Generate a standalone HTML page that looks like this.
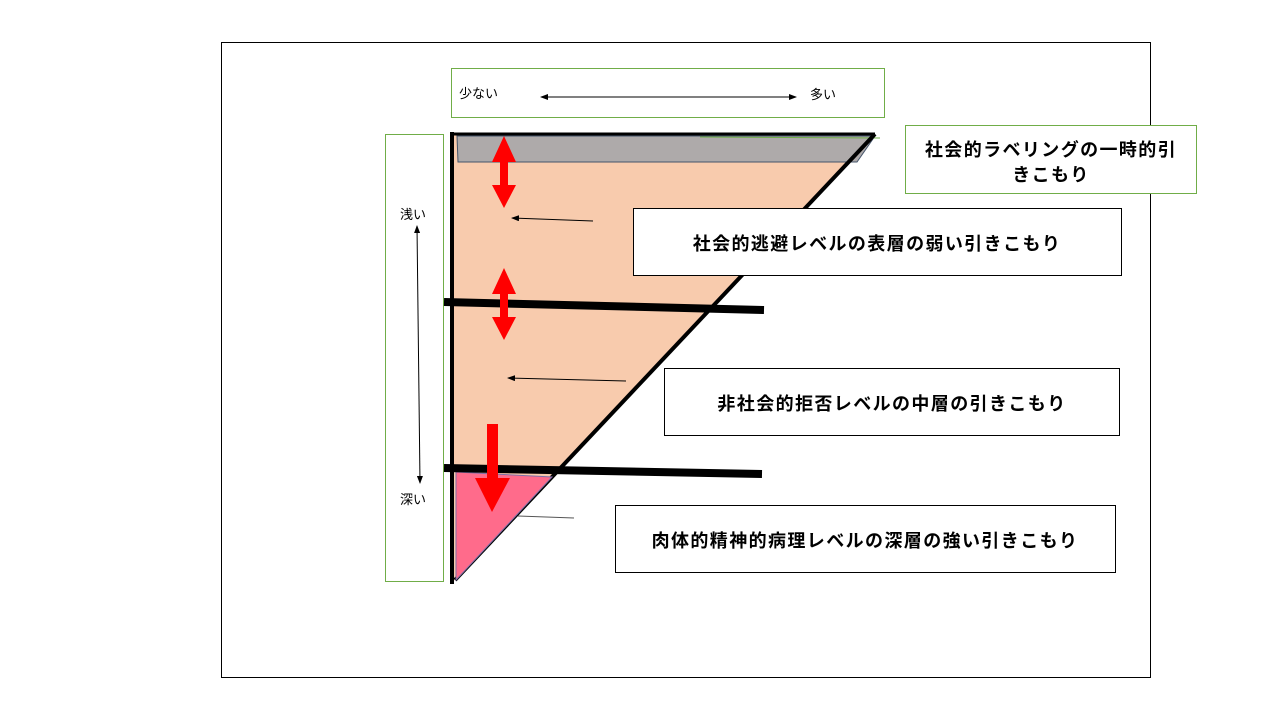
<!DOCTYPE html>
<html><head><meta charset="utf-8"><style>
html,body{margin:0;padding:0;background:#fff;}
svg text{font-family:"Liberation Sans","Noto Sans CJK JP",sans-serif;}
.lb{font-size:18px;font-weight:bold;letter-spacing:1.4px;}
</style></head><body>
<svg width="1280" height="720" viewBox="0 0 1280 720" xmlns="http://www.w3.org/2000/svg">
<defs>
<marker id="ah" markerWidth="8" markerHeight="6" refX="7" refY="3" orient="auto" markerUnits="userSpaceOnUse"><path d="M0,0 L8,3 L0,6 z" fill="#000"/></marker>
<marker id="ahs" markerWidth="8" markerHeight="6" refX="1" refY="3" orient="auto" markerUnits="userSpaceOnUse"><path d="M8,0 L0,3 L8,6 z" fill="#000"/></marker>
</defs>
<rect x="221.5" y="42.5" width="929" height="635" fill="#fff" stroke="#000" stroke-width="1"/>
<rect x="451.5" y="68.5" width="433" height="49" fill="#fff" stroke="#70ad47" stroke-width="1"/>
<text x="459" y="98" font-size="13">少ない</text>
<text x="810" y="99" font-size="13">多い</text>
<line x1="541" y1="97" x2="796" y2="97" stroke="#000" stroke-width="1" marker-start="url(#ahs)" marker-end="url(#ah)"/>
<rect x="385.5" y="134.5" width="58" height="447" fill="#fff" stroke="#70ad47" stroke-width="1"/>
<text x="400" y="219" font-size="13">浅い</text>
<text x="400" y="504" font-size="13">深い</text>
<line x1="417" y1="226" x2="420" y2="483" stroke="#000" stroke-width="1" marker-start="url(#ahs)" marker-end="url(#ah)"/>
<polygon points="452,134 875,134 452,583" fill="#f8cbad"/>
<polygon points="457,136 875,136 857,162 458,162" fill="#aeaaaa" stroke="#44546a" stroke-width="1"/>
<line x1="700" y1="137" x2="880" y2="138" stroke="#70ad47" stroke-width="1"/>
<line x1="875" y1="134" x2="455" y2="580" stroke="#000" stroke-width="4"/>
<line x1="452" y1="134" x2="875" y2="134" stroke="#000" stroke-width="3"/>
<polygon points="456,472 552,477 456,580" fill="#ff6b8b" stroke="#7f6fa8" stroke-width="1"/>
<line x1="452" y1="132" x2="452" y2="584" stroke="#000" stroke-width="4"/>
<line x1="444" y1="302" x2="764" y2="310" stroke="#000" stroke-width="8"/>
<line x1="444" y1="468" x2="762" y2="474" stroke="#000" stroke-width="8"/>
<polygon points="504,136 516,162 508,162 508,185 516,185 504,208 492,185 500,185 500,162 492,162" fill="#ff0000"/>
<polygon points="504,268 516,294 508,294 508,317 516,317 504,340 492,317 500,317 500,294 492,294" fill="#ff0000"/>
<polygon points="487,424 498,424 498,478 510,478 492,512 475,478 487,478" fill="#ff0000"/>
<line x1="593" y1="221" x2="512" y2="218" stroke="#000" stroke-width="1" marker-end="url(#ah)"/>
<line x1="626" y1="381" x2="508" y2="378" stroke="#000" stroke-width="1" marker-end="url(#ah)"/>
<line x1="574" y1="518" x2="518" y2="516" stroke="#555" stroke-width="1"/>
<rect x="905.5" y="125.5" width="291" height="68" fill="#fff" stroke="#70ad47" stroke-width="1"/>
<text x="1051" y="156" class="lb" text-anchor="middle">社会的ラベリングの一時的引</text>
<text x="1051" y="181" class="lb" text-anchor="middle">きこもり</text>
<rect x="633.5" y="208.5" width="488" height="67" fill="#fff" stroke="#000" stroke-width="1"/>
<text x="877" y="250" class="lb" text-anchor="middle">社会的逃避レベルの表層の弱い引きこもり</text>
<rect x="664.5" y="368.5" width="455" height="67" fill="#fff" stroke="#000" stroke-width="1"/>
<text x="892" y="410" class="lb" text-anchor="middle">非社会的拒否レベルの中層の引きこもり</text>
<rect x="615.5" y="505.5" width="500" height="67" fill="#fff" stroke="#000" stroke-width="1"/>
<text x="865" y="547" class="lb" text-anchor="middle">肉体的精神的病理レベルの深層の強い引きこもり</text>
</svg>
</body></html>
